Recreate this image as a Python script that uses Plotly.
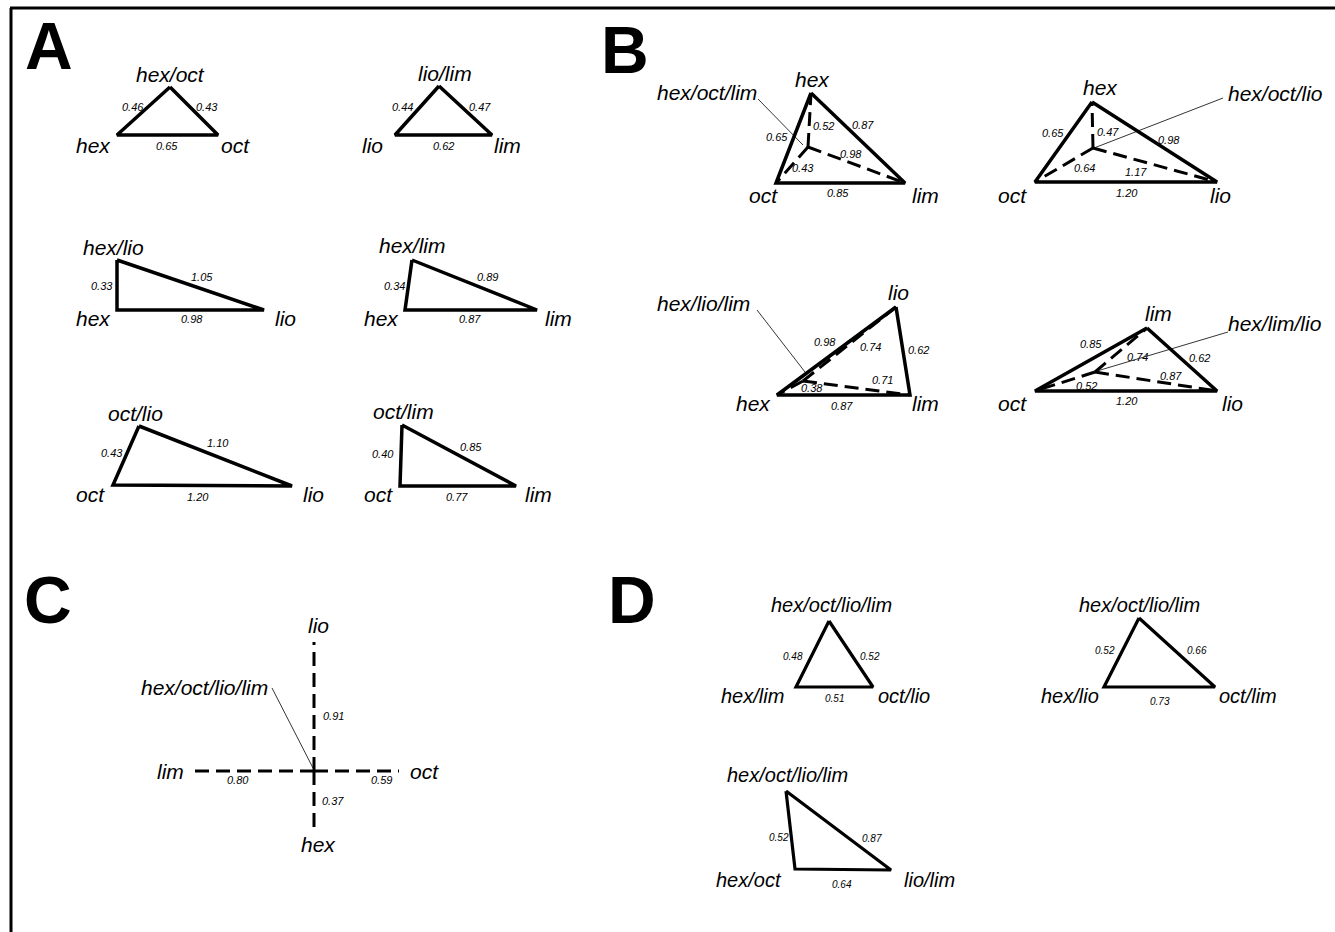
import plotly.graph_objects as go

# ---------------- data ----------------
# Panel A: two-node splits, each triangle = [apex, left, right]
A_NODES = [
    ["hex/oct", "hex", "oct"],
    ["lio/lim", "lio", "lim"],
    ["hex/lio", "hex", "lio"],
    ["hex/lim", "hex", "lim"],
    ["oct/lio", "oct", "lio"],
    ["oct/lim", "oct", "lim"],
]
# edge values: [apex-left, apex-right, left-right]
A_VALUES = [
    ["0.46", "0.43", "0.65"],
    ["0.44", "0.47", "0.62"],
    ["0.33", "1.05", "0.98"],
    ["0.34", "0.89", "0.87"],
    ["0.43", "1.10", "1.20"],
    ["0.40", "0.85", "0.77"],
]

# Panel B: three-node stars inside triangles: [top, left, right], centre node
B_NODES = [
    ["hex", "oct", "lim"],
    ["hex", "oct", "lio"],
    ["lio", "hex", "lim"],
    ["lim", "oct", "lio"],
]
B_CENTRE = ["hex/oct/lim", "hex/oct/lio", "hex/lio/lim", "hex/lim/lio"]
# outer edges: [top-left, top-right, left-right]
B_OUTER_VALUES = [
    ["0.65", "0.87", "0.85"],
    ["0.65", "0.98", "1.20"],
    ["0.98", "0.62", "0.87"],
    ["0.85", "0.62", "1.20"],
]
# inner (dashed) edges: [centre-top, centre-left, centre-right]
B_INNER_VALUES = [
    ["0.52", "0.43", "0.98"],
    ["0.47", "0.64", "1.17"],
    ["0.74", "0.38", "0.71"],
    ["0.74", "0.52", "0.87"],
]

# Panel C: four-node star
C_CENTRE = "hex/oct/lio/lim"
C_NODES = ["lio", "hex", "lim", "oct"]
C_VALUES = ["0.91", "0.37", "0.80", "0.59"]

# Panel D: triangles of four-node groupings: [apex, left, right]
D_NODES = [
    ["hex/oct/lio/lim", "hex/lim", "oct/lio"],
    ["hex/oct/lio/lim", "hex/lio", "oct/lim"],
    ["hex/oct/lio/lim", "hex/oct", "lio/lim"],
]
D_VALUES = [
    ["0.48", "0.52", "0.51"],
    ["0.52", "0.66", "0.73"],
    ["0.52", "0.87", "0.64"],
]

PANEL_LETTERS = ["A", "B", "C", "D"]

# ---------------- layout geometry (page pixel coordinates) ----------------
W, H = 1335, 932
PANEL_LETTER_POS = [(49, 46), (625, 50), (48, 600), (632, 600)]

A_VERTS = [
    [(170, 87), (117, 135), (218, 135)],
    [(439, 86), (395, 135), (492, 135)],
    [(117, 260), (117, 310), (264, 310)],
    [(412, 260), (405, 310), (537, 310)],
    [(139, 426), (113, 485), (292, 486)],
    [(402, 425), (400, 486), (516, 486)],
]
A_NODE_LABEL_POS = [
    [(170, 74), (93, 145), (235, 145)],
    [(445, 73), (372, 145), (507, 145)],
    [(113, 247), (93, 318), (285, 318)],
    [(412, 245), (381, 318), (558, 318)],
    [(135, 413), (90, 494), (313, 494)],
    [(403, 411), (378, 494), (538, 494)],
]
A_VALUE_POS = [
    [(133, 107), (207, 107), (167, 146)],
    [(402, 107), (480, 107), (443, 146)],
    [(102, 286), (202, 277), (192, 319)],
    [(394, 286), (487, 277), (470, 319)],
    [(112, 453), (218, 443), (198, 497)],
    [(383, 454), (471, 447), (457, 497)],
]

B_VERTS = [
    [(811, 93), (776, 183), (905, 183)],
    [(1092, 102), (1035, 182), (1217, 182)],
    [(896, 307), (777, 395), (910, 395)],
    [(1147, 328), (1035, 391), (1217, 391)],
]
B_CENTRE_XY = [(808, 147), (1093, 148), (803, 381), (1095, 372)]
B_NODE_LABEL_POS = [
    [(812, 79), (763, 195), (925, 195)],
    [(1100, 87), (1012, 195), (1220, 195)],
    [(898, 292), (753, 403), (925, 403)],
    [(1158, 313), (1012, 403), (1232, 403)],
]
B_CENTRE_LABEL_POS = [(707, 92), (1275, 93), (703, 303), (1275, 323)]
B_LEADER_START = [(758, 99), (1223, 98), (757, 310), (1228, 332)]
B_LEADER_END = [(803, 145), (1094, 148), (805, 372), (1097, 371)]
B_OUTER_POS = [
    [(777, 137), (863, 125), (838, 193)],
    [(1053, 133), (1169, 140), (1127, 193)],
    [(825, 342), (918, 350), (842, 406)],
    [(1091, 344), (1199, 358), (1127, 401)],
]
B_INNER_POS = [
    [(823, 126), (803, 168), (851, 154)],
    [(1108, 132), (1084, 168), (1136, 172)],
    [(870, 347), (812, 388), (882, 380)],
    [(1137, 357), (1086, 386), (1171, 376)],
]

C_CENTRE_XY = (314, 771)
C_ENDS = [(314, 642), (314, 828), (195, 771), (399, 771)]
C_NODE_LABEL_POS = [(318, 625), (318, 844), (170, 771), (424, 771)]
C_CENTRE_LABEL_POS = (204, 687)
C_LEADER = [(272, 688), (313, 768)]
C_VALUE_POS = [(333, 716), (333, 801), (238, 780), (381, 780)]

D_VERTS = [
    [(829, 621), (796, 687), (873, 687)],
    [(1139, 618), (1104, 687), (1215, 687)],
    [(786, 791), (795, 869), (891, 870)],
]
D_NODE_LABEL_POS = [
    [(831, 605), (752, 696), (904, 696)],
    [(1139, 605), (1070, 696), (1248, 696)],
    [(787, 775), (749, 880), (929, 880)],
]
D_VALUE_POS = [
    [(793, 656), (870, 656), (834, 698)],
    [(1105, 650), (1197, 650), (1160, 701)],
    [(779, 837), (872, 838), (842, 884)],
]

# ---------------- styles ----------------
FONT = "Liberation Sans, Arial, sans-serif"
NODE_SIZE = 21
VALUE_SIZE = 11
LETTER_SIZE = 66
SOLID_W = 3.5
DASH_W = 3
DASH = "14px,7px"

fig = go.Figure()
ann = []


def seg(p, q, width=SOLID_W, dash="solid"):
    fig.add_trace(go.Scatter(
        x=[p[0], q[0]], y=[p[1], q[1]], mode="lines",
        line=dict(color="black", width=width, dash=dash),
        hoverinfo="skip", showlegend=False))


def poly(pts, width=SOLID_W):
    xs = [p[0] for p in pts] + [pts[0][0]]
    ys = [p[1] for p in pts] + [pts[0][1]]
    fig.add_trace(go.Scatter(
        x=xs, y=ys, mode="lines",
        line=dict(color="black", width=width, dash="solid"),
        hoverinfo="skip", showlegend=False))


def label(text, pos, size, bold=False, italic=True):
    t = text
    if bold:
        t = "<b>" + t + "</b>"
    ann.append(dict(
        x=pos[0], y=pos[1], xref="x", yref="y", text=t, showarrow=False,
        xanchor="center", yanchor="middle",
        font=dict(family=FONT, size=size, color="black",
                  style="italic" if italic else "normal")))


# frame
seg((10, 8), (W, 8), width=3)
seg((11, 8), (11, H), width=3)

# panel letters
for letter, pos in zip(PANEL_LETTERS, PANEL_LETTER_POS):
    label(letter, pos, LETTER_SIZE, bold=True, italic=False)

# panel A
for names, vals, verts, npos, vpos in zip(A_NODES, A_VALUES, A_VERTS,
                                          A_NODE_LABEL_POS, A_VALUE_POS):
    poly(verts)
    for n, p in zip(names, npos):
        label(n, p, NODE_SIZE)
    for v, p in zip(vals, vpos):
        label(v, p, VALUE_SIZE)

# panel B
for i in range(len(B_NODES)):
    verts = B_VERTS[i]
    c = B_CENTRE_XY[i]
    poly(verts)
    for v in verts:
        seg(c, v, width=DASH_W, dash=DASH)
    seg(B_LEADER_START[i], B_LEADER_END[i], width=0.8)
    for n, p in zip(B_NODES[i], B_NODE_LABEL_POS[i]):
        label(n, p, NODE_SIZE)
    label(B_CENTRE[i], B_CENTRE_LABEL_POS[i], NODE_SIZE)
    for v, p in zip(B_OUTER_VALUES[i], B_OUTER_POS[i]):
        label(v, p, VALUE_SIZE)
    for v, p in zip(B_INNER_VALUES[i], B_INNER_POS[i]):
        label(v, p, VALUE_SIZE)

# panel C
for end in C_ENDS:
    seg(C_CENTRE_XY, end, width=DASH_W, dash=DASH)
seg(C_LEADER[0], C_LEADER[1], width=0.8)
for n, p in zip(C_NODES, C_NODE_LABEL_POS):
    label(n, p, NODE_SIZE)
label(C_CENTRE, C_CENTRE_LABEL_POS, NODE_SIZE)
for v, p in zip(C_VALUES, C_VALUE_POS):
    label(v, p, VALUE_SIZE)

# panel D
for names, vals, verts, npos, vpos in zip(D_NODES, D_VALUES, D_VERTS,
                                          D_NODE_LABEL_POS, D_VALUE_POS):
    poly(verts, width=3.2)
    for n, p in zip(names, npos):
        label(n, p, NODE_SIZE - 1)
    for v, p in zip(vals, vpos):
        label(v, p, VALUE_SIZE - 1)

fig.update_layout(
    width=W, height=H, autosize=False,
    margin=dict(l=0, r=0, t=0, b=0, pad=0),
    paper_bgcolor="white", plot_bgcolor="white",
    xaxis=dict(range=[0, W], visible=False, fixedrange=True),
    yaxis=dict(range=[H, 0], visible=False, fixedrange=True),
    annotations=ann,
    showlegend=False,
)

fig.write_html("out.html", config={"displayModeBar": False})
with open("out.html", "r", encoding="utf-8") as f:
    html = f.read()
html = html.replace("<head>", "<head><style>html,body{margin:0;padding:0;overflow:hidden;}</style>", 1)
with open("out.html", "w", encoding="utf-8") as f:
    f.write(html)
